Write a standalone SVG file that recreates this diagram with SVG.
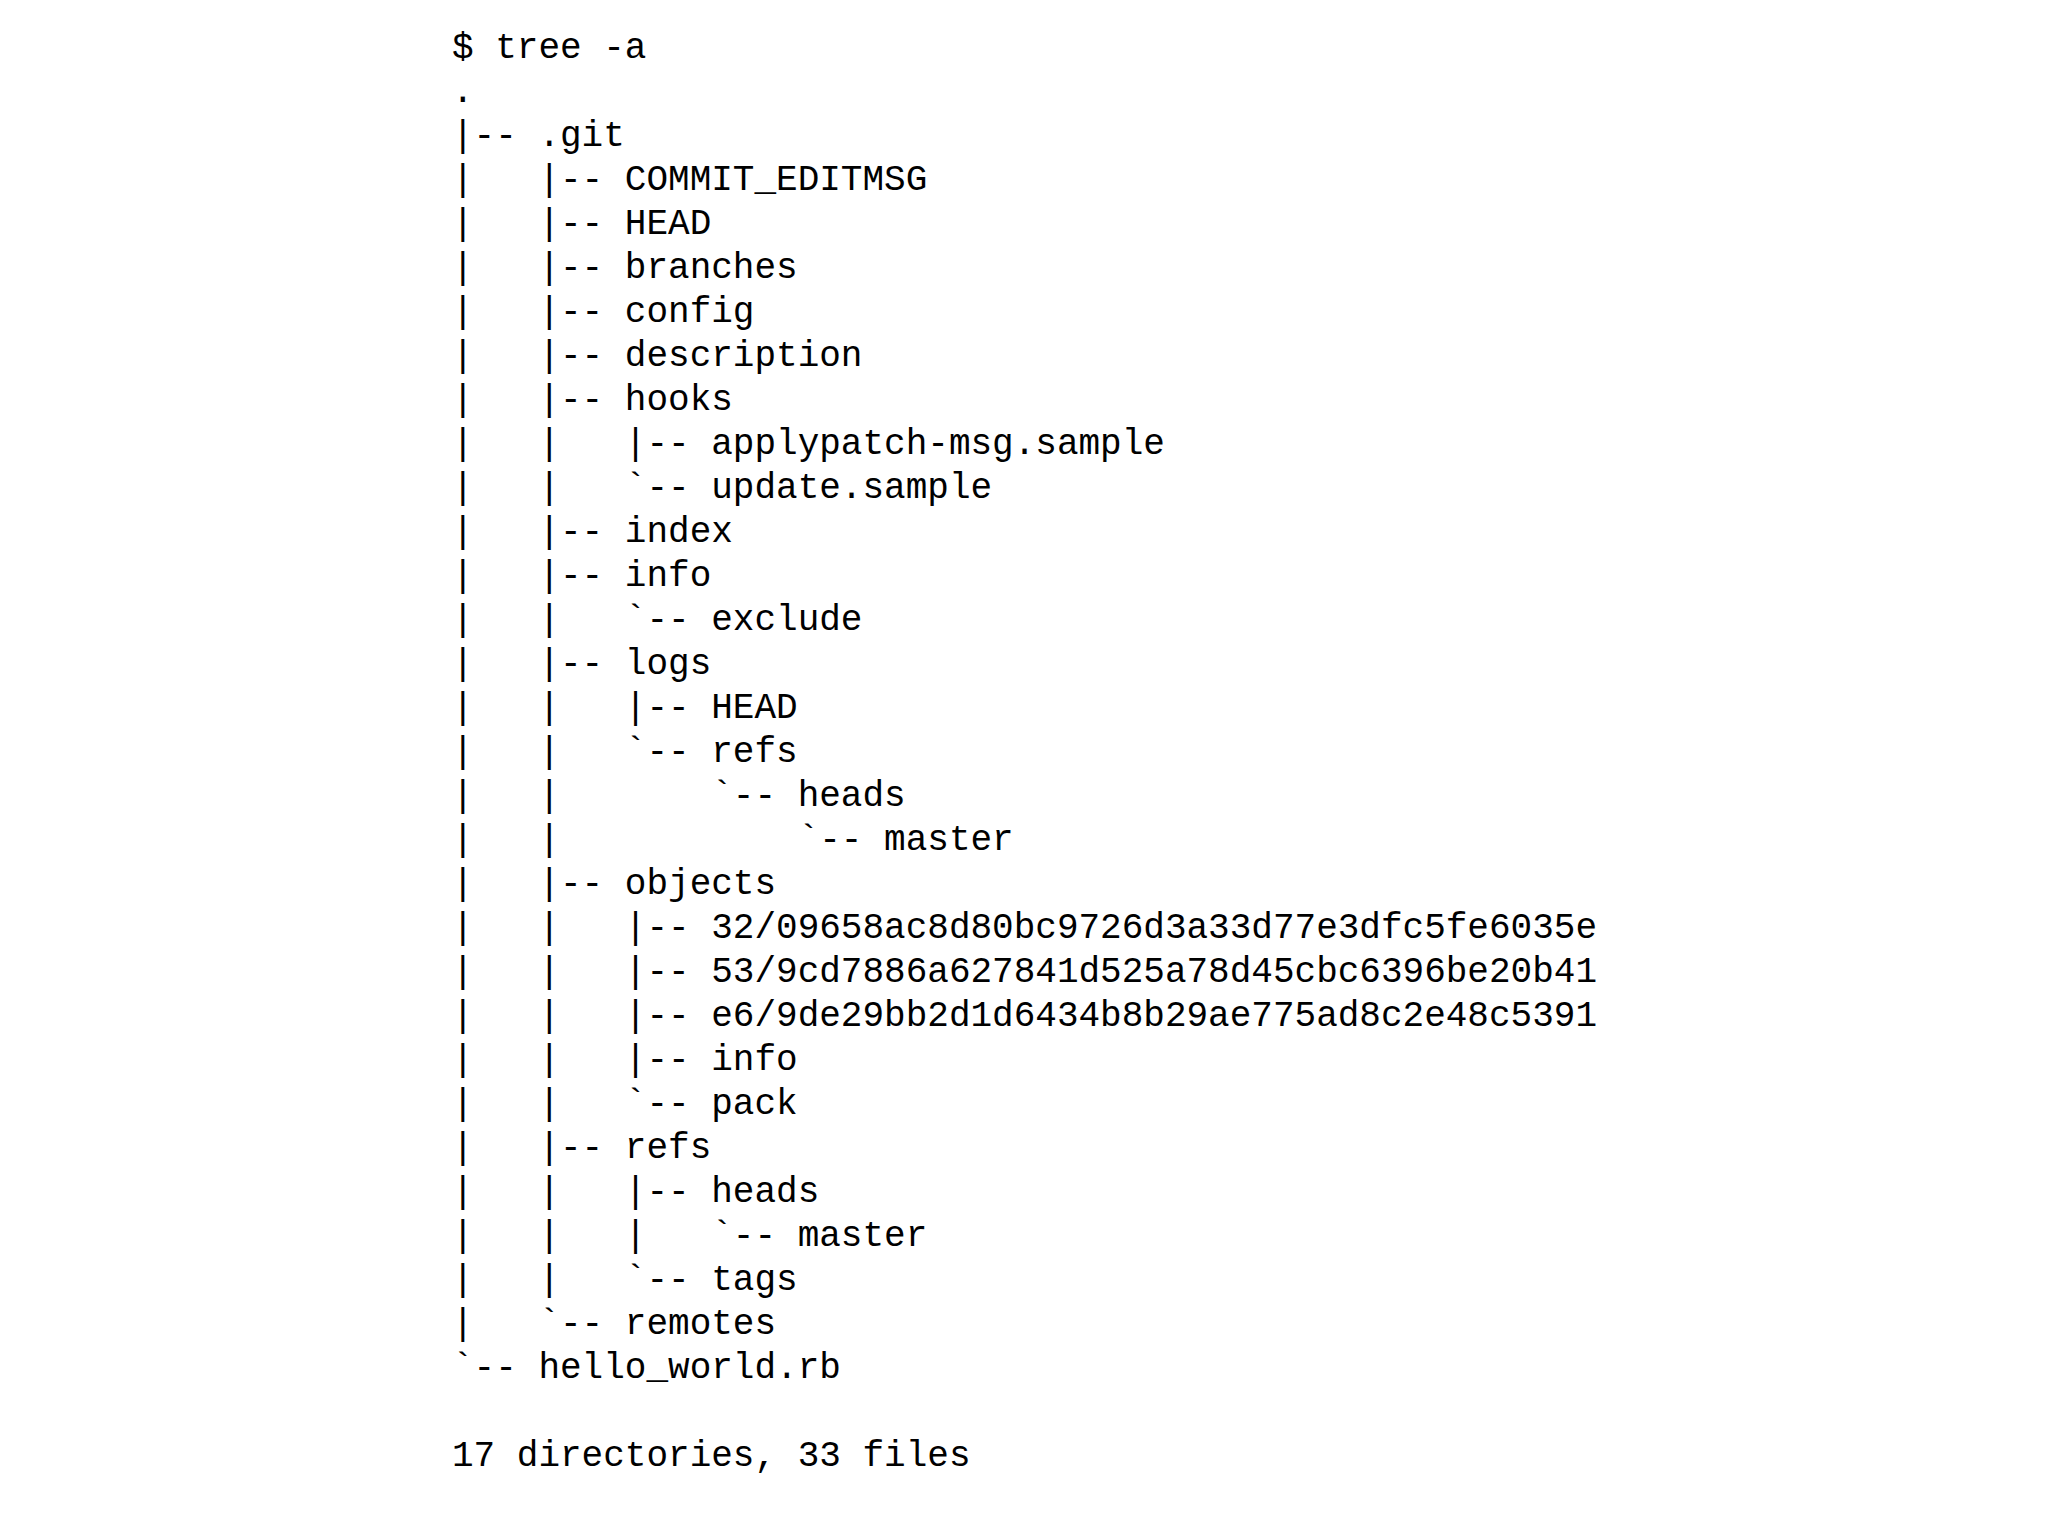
<svg xmlns="http://www.w3.org/2000/svg" width="2048" height="1536" viewBox="0 0 2048 1536">
<style>text{font-family:"Liberation Mono","DejaVu Sans Mono",monospace;font-size:36px;fill:#000;white-space:pre}</style>
<rect width="2048" height="1536" fill="#fff"/>
<g id="tree" xml:space="preserve">
<text x="452" y="58">$ tree -a</text>
<text x="452" y="102">.</text>
<text x="452" y="146">|-- .git</text>
<text x="452" y="190">|   |-- COMMIT_EDITMSG</text>
<text x="452" y="234">|   |-- HEAD</text>
<text x="452" y="278">|   |-- branches</text>
<text x="452" y="322">|   |-- config</text>
<text x="452" y="366">|   |-- description</text>
<text x="452" y="410">|   |-- hooks</text>
<text x="452" y="454">|   |   |-- applypatch-msg.sample</text>
<text x="452" y="498">|   |   `-- update.sample</text>
<text x="452" y="542">|   |-- index</text>
<text x="452" y="586">|   |-- info</text>
<text x="452" y="630">|   |   `-- exclude</text>
<text x="452" y="674">|   |-- logs</text>
<text x="452" y="718">|   |   |-- HEAD</text>
<text x="452" y="762">|   |   `-- refs</text>
<text x="452" y="806">|   |       `-- heads</text>
<text x="452" y="850">|   |           `-- master</text>
<text x="452" y="894">|   |-- objects</text>
<text x="452" y="938">|   |   |-- 32/09658ac8d80bc9726d3a33d77e3dfc5fe6035e</text>
<text x="452" y="982">|   |   |-- 53/9cd7886a627841d525a78d45cbc6396be20b41</text>
<text x="452" y="1026">|   |   |-- e6/9de29bb2d1d6434b8b29ae775ad8c2e48c5391</text>
<text x="452" y="1070">|   |   |-- info</text>
<text x="452" y="1114">|   |   `-- pack</text>
<text x="452" y="1158">|   |-- refs</text>
<text x="452" y="1202">|   |   |-- heads</text>
<text x="452" y="1246">|   |   |   `-- master</text>
<text x="452" y="1290">|   |   `-- tags</text>
<text x="452" y="1334">|   `-- remotes</text>
<text x="452" y="1378">`-- hello_world.rb</text>
<text x="452" y="1466">17 directories, 33 files</text>
</g>
</svg>
